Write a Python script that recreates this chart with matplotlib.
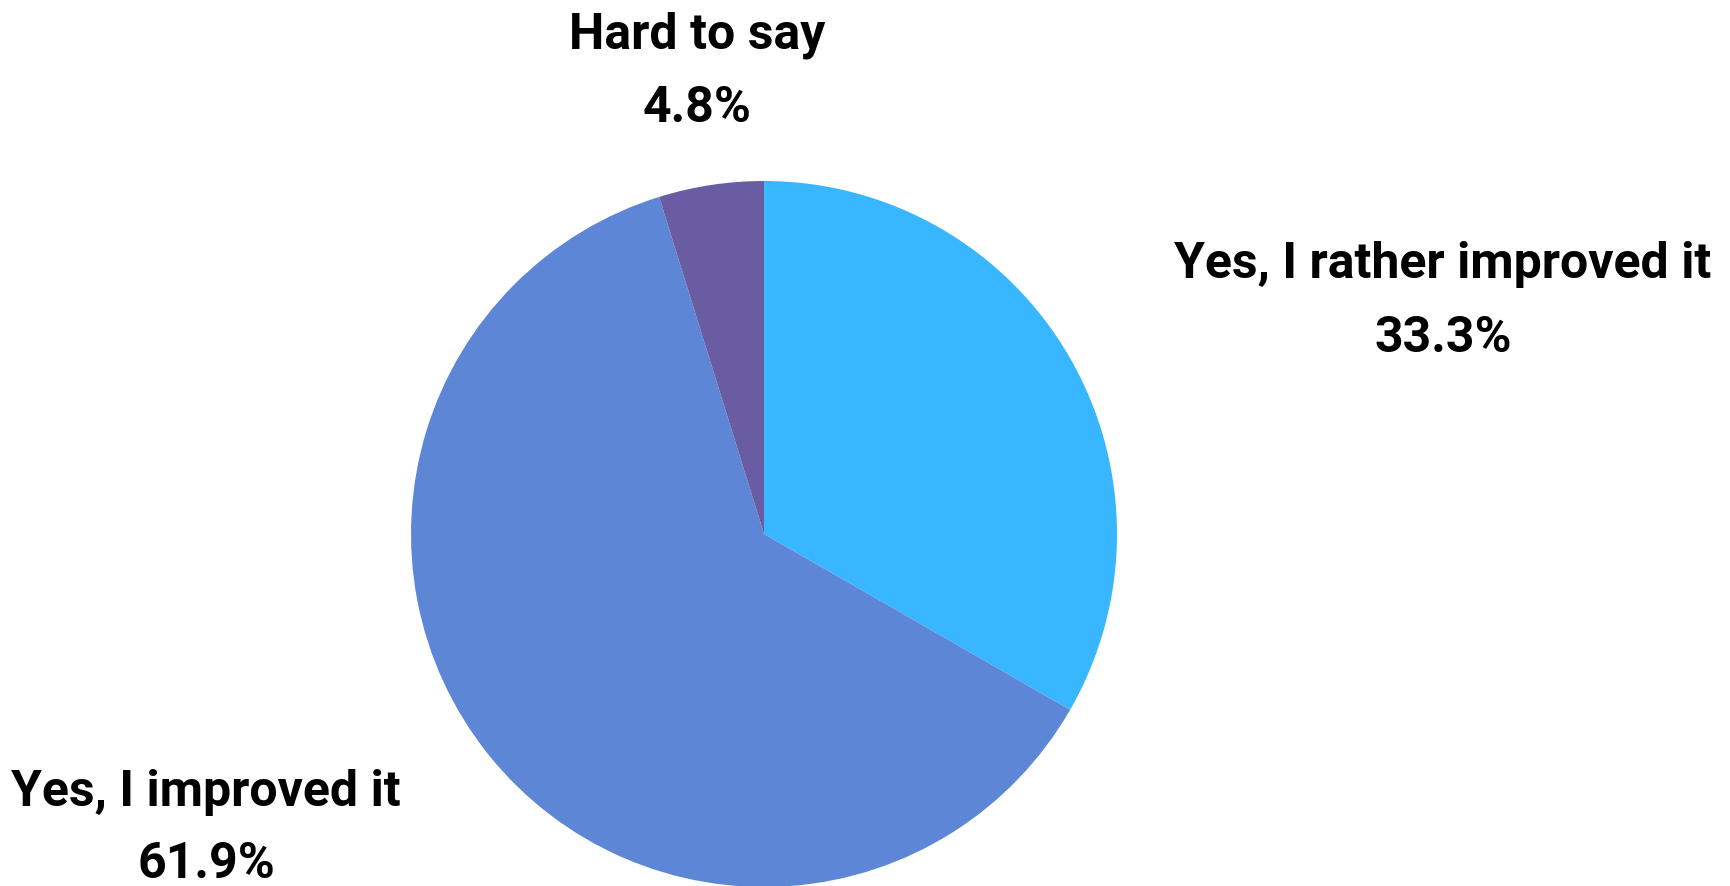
import matplotlib
matplotlib.use("Agg")
import matplotlib.pyplot as plt

# Survey answers (clockwise from the top)
labels = ["Yes, I rather improved it", "Yes, I improved it", "Hard to say"]
shares = [33.3, 61.9, 4.8]
colors = ["#38b6ff", "#5d87d6", "#6a5ca3"]

W, H = 1731, 886
fig = plt.figure(figsize=(W / 100, H / 100), dpi=100)

# pie centre and radius in pixels
cx, cy, r = 764, 534, 353
ax = fig.add_axes([(cx - r) / W, (H - cy - r) / H, 2 * r / W, 2 * r / H])
ax.pie(shares, colors=colors, startangle=90, counterclock=False,
       wedgeprops=dict(linewidth=0))
ax.set_xlim(-1, 1)
ax.set_ylim(-1, 1)
ax.axis("off")

font = dict(family=["Roboto", "DejaVu Sans"],
            fontweight="bold", fontsize=36, color="black",
            ha="center", va="center")

# label positions (pixel centres of the two text lines)
label_pos = [(1443, 265, 339), (206, 792, 864), (697, 35, 108)]
for lab, val, (x, y1, y2) in zip(labels, shares, label_pos):
    fig.text(x / W, 1 - y1 / H, lab, **font)
    fig.text(x / W, 1 - y2 / H, f"{val:.1f}%", **font)

fig.savefig("out.png", dpi=100)
